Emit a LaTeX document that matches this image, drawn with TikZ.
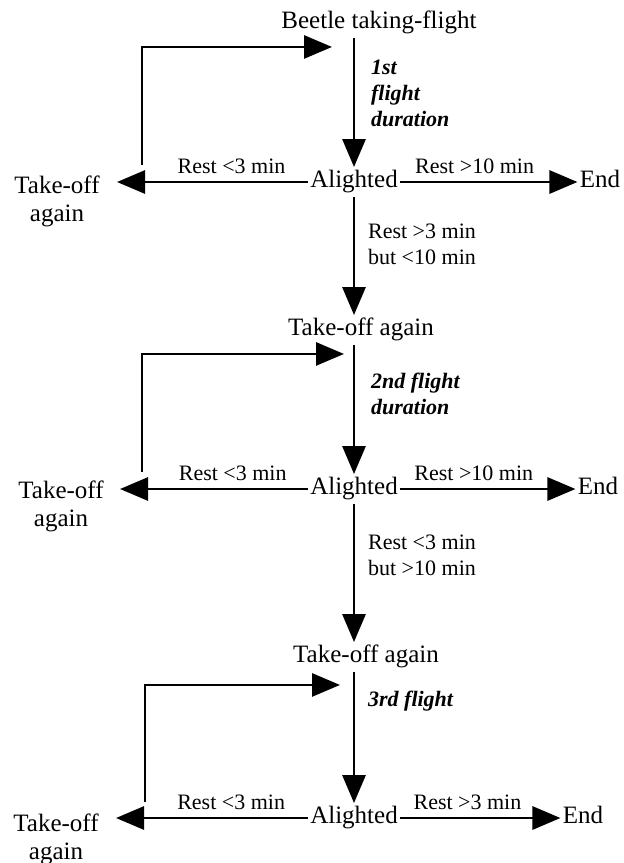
\documentclass[tikz,border=0pt]{standalone}
\usepackage{fontspec}
\setmainfont{Liberation Serif}
\usetikzlibrary{arrows.meta, calc, positioning}

\begin{document}
\begin{tikzpicture}[node distance=80pt, auto]

\tikzstyle{stage} = [text height=1.8ex, text depth=0.5ex, inner xsep=1pt, inner ysep=2pt, font=\fontsize{12.5}{15}\selectfont]
\tikzstyle{again} = [align=center, inner sep=2pt, font=\fontsize{12.5}{14}\selectfont]
\tikzstyle{rest} = [align=left, font=\fontsize{11}{13}\selectfont]
\tikzstyle{dur} = [align=left, font=\fontsize{11}{13}\selectfont\bfseries\itshape]
\tikzstyle{arrow} = [line width=1.45pt, -{Triangle[length=14pt, width=11.5pt]}]

\useasboundingbox (0,0) rectangle (312pt,-431.5pt);

\node (s) [stage] at (189.5pt,-11.5pt) {Beetle taking-flight};
\node (a1) [stage, below of=s, xshift=-12.5pt, yshift=0.5pt] {Alighted};
\node (t1) [again, left of=a1, xshift=-68.5pt, yshift=-9.5pt] {Take-off\\again};
\node (e1) [stage, right of=a1, xshift=43pt] {End};
\node (k2) [stage, below of=a1, xshift=3.5pt, yshift=6pt] {Take-off again};
\node (a2) [stage, below of=k2, xshift=-3.5pt, yshift=0.5pt] {Alighted};
\node (t2) [again, left of=a2, xshift=-66.5pt, yshift=-8.5pt] {Take-off\\again};
\node (e2) [stage, right of=a2, xshift=42pt] {End};
\node (k3) [stage, below of=a2, xshift=6pt, yshift=-4pt] {Take-off again};
\node (a3) [stage, below of=k3, xshift=-6pt, yshift=-0.5pt] {Alighted};
\node (t3) [again, left of=a3, xshift=-69pt, yshift=-10.5pt] {Take-off\\again};
\node (e3) [stage, right of=a3, xshift=34.5pt] {End};

\coordinate (w1) at ($(a1 -| t1.east)+(6.5pt,0)$);
\coordinate (w2) at ($(a2 -| t2.east)+(6pt,0)$);
\coordinate (w3) at ($(a3 -| t3.east)+(6.5pt,0)$);

% first flight
\draw [arrow] (s.south -| a1) -- node[dur, anchor=west, pos=0.43, xshift=4.5pt] {1st\\flight\\duration} (a1);
\draw [arrow] (a1) -- node[rest, anchor=south, pos=0.4] {Rest <3 min} (w1);
\draw [arrow] (a1) -- node[rest, anchor=south, pos=0.42] {Rest >10 min} (e1);
\draw [arrow] ($(w1)+(12.5pt,8.5pt)$) |- ($(s.south -| a1)+(-11pt,-4.5pt)$);
\draw [arrow] (a1.south) -- node[rest, anchor=west, pos=0.4, xshift=3pt] {Rest >3 min\\but <10 min} (a1.south |- k2.north);

% second flight
\draw [arrow] (k2.south -| a2) -- node[dur, anchor=west, pos=0.38, xshift=4.5pt] {2nd flight\\duration} (a2);
\draw [arrow] (a2) -- node[rest, anchor=south, pos=0.4] {Rest <3 min} (w2);
\draw [arrow] (a2) -- node[rest, anchor=south, pos=0.42] {Rest >10 min} (e2);
\draw [arrow] ($(w2)+(11pt,8.5pt)$) |- ($(k2.south -| a2)+(-5pt,-4.5pt)$);
\draw [arrow] (a2.south) -- node[rest, anchor=west, pos=0.37, xshift=3pt] {Rest <3 min\\but >10 min} (a2.south |- k3.north);

% third flight
\draw [arrow] (k3.south -| a3) -- node[dur, anchor=west, pos=0.22, xshift=3pt] {3rd flight} (a3);
\draw [arrow] (a3) -- node[rest, anchor=south, pos=0.4] {Rest <3 min} (w3);
\draw [arrow] (a3) -- node[rest, anchor=south, pos=0.42] {Rest >3 min} (e3);
\draw [arrow] ($(w3)+(14.5pt,8pt)$) |- ($(k3.south -| a3)+(-7pt,-6.5pt)$);
\end{tikzpicture}
\end{document}
